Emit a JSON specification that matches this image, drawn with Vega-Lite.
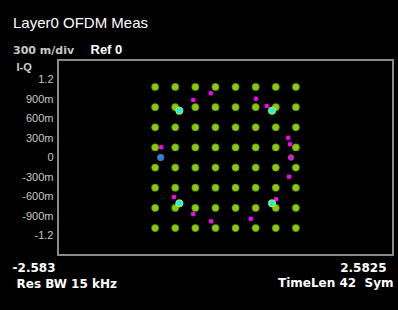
{
  "$schema": "https://vega.github.io/schema/vega-lite/v6.json",
  "width": 335,
  "height": 195,
  "autosize": {"type": "none"},
  "padding": {"left": 58, "top": 60, "right": 5, "bottom": 55},
  "background": "#000000",
  "config": {
    "view": {"stroke": "#8a8a8a", "strokeWidth": 2, "fill": "#000000"}
  },
  "title": {
    "text": "Layer0 OFDM Meas",
    "subtitle": "300 m/div",
    "anchor": "start",
    "frame": "group",
    "dx": -45,
    "dy": 13,
    "offset": 0,
    "font": "Liberation Sans",
    "fontSize": 15,
    "fontWeight": "normal",
    "color": "#ffffff",
    "subtitleFont": "DejaVu Sans",
    "subtitleFontSize": 11,
    "subtitleFontWeight": "bold",
    "subtitleColor": "#c8c8c8",
    "subtitlePadding": 14
  },
  "datasets": {
    "grid": [
      {"i": -1.085, "q": 1.085}, {"i": -0.775, "q": 1.085}, {"i": -0.465, "q": 1.085}, {"i": -0.155, "q": 1.085}, {"i": 0.155, "q": 1.085}, {"i": 0.465, "q": 1.085}, {"i": 0.775, "q": 1.085}, {"i": 1.085, "q": 1.085},
      {"i": -1.085, "q": 0.775}, {"i": -0.775, "q": 0.775}, {"i": -0.465, "q": 0.775}, {"i": -0.155, "q": 0.775}, {"i": 0.155, "q": 0.775}, {"i": 0.465, "q": 0.775}, {"i": 0.775, "q": 0.775}, {"i": 1.085, "q": 0.775},
      {"i": -1.085, "q": 0.465}, {"i": -0.775, "q": 0.465}, {"i": -0.465, "q": 0.465}, {"i": -0.155, "q": 0.465}, {"i": 0.155, "q": 0.465}, {"i": 0.465, "q": 0.465}, {"i": 0.775, "q": 0.465}, {"i": 1.085, "q": 0.465},
      {"i": -1.085, "q": 0.155}, {"i": -0.775, "q": 0.155}, {"i": -0.465, "q": 0.155}, {"i": -0.155, "q": 0.155}, {"i": 0.155, "q": 0.155}, {"i": 0.465, "q": 0.155}, {"i": 0.775, "q": 0.155}, {"i": 1.085, "q": 0.155},
      {"i": -1.085, "q": -0.155}, {"i": -0.775, "q": -0.155}, {"i": -0.465, "q": -0.155}, {"i": -0.155, "q": -0.155}, {"i": 0.155, "q": -0.155}, {"i": 0.465, "q": -0.155}, {"i": 0.775, "q": -0.155}, {"i": 1.085, "q": -0.155},
      {"i": -1.085, "q": -0.465}, {"i": -0.775, "q": -0.465}, {"i": -0.465, "q": -0.465}, {"i": -0.155, "q": -0.465}, {"i": 0.155, "q": -0.465}, {"i": 0.465, "q": -0.465}, {"i": 0.775, "q": -0.465}, {"i": 1.085, "q": -0.465},
      {"i": -1.085, "q": -0.775}, {"i": -0.775, "q": -0.775}, {"i": -0.465, "q": -0.775}, {"i": -0.155, "q": -0.775}, {"i": 0.155, "q": -0.775}, {"i": 0.465, "q": -0.775}, {"i": 0.775, "q": -0.775}, {"i": 1.085, "q": -0.775},
      {"i": -1.085, "q": -1.085}, {"i": -0.775, "q": -1.085}, {"i": -0.465, "q": -1.085}, {"i": -0.155, "q": -1.085}, {"i": 0.155, "q": -1.085}, {"i": 0.465, "q": -1.085}, {"i": 0.775, "q": -1.085}, {"i": 1.085, "q": -1.085}
    ],
    "extra": [
      {"i": -0.497, "q": 0.885, "kind": "m"},
      {"i": -0.228, "q": 0.988, "kind": "m"},
      {"i": 0.470, "q": 0.905, "kind": "m"},
      {"i": 0.635, "q": 0.792, "kind": "m"},
      {"i": -0.990, "q": 0.157, "kind": "m"},
      {"i": 0.968, "q": 0.305, "kind": "m"},
      {"i": 0.995, "q": 0.203, "kind": "m"},
      {"i": 0.979, "q": -0.295, "kind": "m"},
      {"i": -0.794, "q": -0.608, "kind": "m"},
      {"i": 0.779, "q": -0.643, "kind": "m"},
      {"i": -0.497, "q": -0.869, "kind": "m"},
      {"i": -0.224, "q": -0.982, "kind": "m"},
      {"i": 0.389, "q": -0.942, "kind": "m"},
      {"i": -0.712, "q": 0.72, "kind": "c"},
      {"i": 0.717, "q": 0.72, "kind": "c"},
      {"i": -0.712, "q": -0.705, "kind": "c"},
      {"i": 0.717, "q": -0.705, "kind": "c"},
      {"i": -1.0, "q": 0.0, "kind": "b"},
      {"i": 1.01, "q": 0.0, "kind": "mc"}
    ]
  },
  "layer": [
    {
      "data": {"name": "grid"},
      "mark": {"type": "point", "filled": true, "shape": "circle", "size": 52, "opacity": 1, "color": "#88cc00", "stroke": "#5f7a30", "strokeWidth": 0.6},
      "encoding": {
        "x": {
          "field": "i", "type": "quantitative",
          "scale": {"domain": [-2.583, 2.5825], "nice": false, "zero": false},
          "axis": {
            "orient": "bottom",
            "values": [-2.583, 2.5825],
            "labelExpr": "replace(format(datum.value, '.4~f'), '\u2212', '-')",
            "grid": false, "ticks": false, "tickSize": 0, "domain": false,
            "labelFont": "DejaVu Sans", "labelFontSize": 12, "labelFontWeight": "bold", "labelColor": "#ffffff",
            "labelAlign": "right",
            "labelBaseline": "alphabetic",
            "labelPadding": 16,
            "labelOffset": {"condition": {"test": "datum.value < 0", "value": -3}, "value": -7},
            "labelFlush": false, "labelOverlap": false, "labelBound": false,
            "title": "Res BW 15 kHz",
            "titleFont": "DejaVu Sans", "titleFontSize": 12, "titleFontWeight": "bold", "titleColor": "#ffffff",
            "titleAnchor": "start", "titleAlign": "left", "titleBaseline": "alphabetic",
            "titleX": -42, "titleY": 32
          }
        },
        "y": {
          "field": "q", "type": "quantitative",
          "scale": {"domain": [-1.5, 1.5], "nice": false, "zero": false},
          "axis": {
            "orient": "left",
            "values": [1.2, 0.9, 0.6, 0.3, 0, -0.3, -0.6, -0.9, -1.2],
            "labelExpr": "abs(datum.value) >= 1 ? (datum.value < 0 ? '-1.2' : '1.2') : (datum.value == 0 ? '0' : (datum.value < 0 ? '-' : '') + format(abs(datum.value) * 1000, '.0f') + 'm')",
            "grid": false, "ticks": false, "tickSize": 0, "domain": false,
            "labelFont": "Liberation Sans", "labelFontSize": 11, "labelColor": "#c8c8c8",
            "labelPadding": 5, "labelBaseline": "middle", "labelAlign": "right",
            "title": "I-Q",
            "titleFont": "Liberation Sans", "titleFontSize": 11, "titleFontWeight": "bold", "titleColor": "#d0d0d0",
            "titleAngle": 0, "titleAlign": "left", "titleBaseline": "alphabetic",
            "titleX": -42, "titleY": 10
          }
        }
      }
    },
    {
      "data": {"name": "extra"},
      "mark": {"type": "point", "filled": true, "opacity": 1, "strokeWidth": 1},
      "encoding": {
        "x": {
          "field": "i", "type": "quantitative",
          "scale": {"domain": [-2.583, 2.5825], "nice": false, "zero": false},
          "axis": {
            "orient": "top",
            "labels": false, "ticks": false, "domain": false, "grid": false,
            "title": "Ref 0",
            "titleFont": "Liberation Sans", "titleFontSize": 13, "titleFontWeight": "bold", "titleColor": "#ffffff",
            "titleAnchor": "start", "titleAlign": "left", "titleBaseline": "alphabetic",
            "titleX": 32, "titleY": -7
          }
        },
        "y": {
          "field": "q", "type": "quantitative",
          "scale": {"domain": [-1.5, 1.5], "nice": false, "zero": false},
          "axis": {
            "orient": "right",
            "labels": false, "ticks": false, "domain": false, "grid": false,
            "title": "TimeLen 42\u00a0 Sym",
            "titleFont": "DejaVu Sans", "titleFontSize": 12, "titleFontWeight": "bold", "titleColor": "#ffffff",
            "titleAngle": 0, "titleAlign": "right", "titleBaseline": "alphabetic",
            "titleX": 0, "titleY": 226
          }
        },
        "color": {
          "condition": [
            {"test": "datum.kind == 'c'", "value": "#10f4f4"},
            {"test": "datum.kind == 'b'", "value": "#1e82ff"}
          ],
          "value": "#ff00ff"
        },
        "stroke": {
          "condition": [
            {"test": "datum.kind == 'c'", "value": "#e8e800"},
            {"test": "datum.kind == 'b' || datum.kind == 'mc'", "value": "#707070"}
          ],
          "value": "#ff00ff"
        },
        "shape": {
          "condition": {"test": "datum.kind == 'm'", "value": "square"},
          "value": "circle"
        },
        "size": {
          "condition": [
            {"test": "datum.kind == 'c'", "value": 52},
            {"test": "datum.kind == 'b'", "value": 40},
            {"test": "datum.kind == 'mc'", "value": 30}
          ],
          "value": 10
        }
      }
    }
  ],
  "resolve": {"axis": {"x": "independent", "y": "independent"}}
}
